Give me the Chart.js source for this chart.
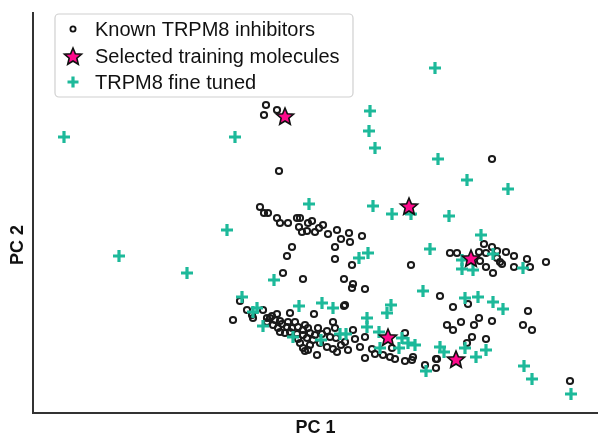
<!DOCTYPE html>
<html>
<head>
<meta charset="utf-8">
<script src="https://cdn.jsdelivr.net/npm/chart.js@4/dist/chart.umd.min.js"></script>
<style>
  html, body { margin: 0; padding: 0; background: #fff; }
  #wrap { position: relative; width: 598px; height: 439px; }
</style>
</head>
<body>
<div id="wrap"><canvas id="pcaChart" width="598" height="439"></canvas></div>
<script>
// values, in picture units (PC 2 grows downwards, axis reversed)
const knownInhibitors = [
  [266,105],[264,115],[277,110],[279,171],[492,159],
  [260,207],[264,213],[268,213],[277,218],[280,223],[288,223],[297,218],[300,218],[308,223],[312,221],
  [299,227],[302,232],[307,231],[315,232],[319,228],[323,225],[328,234],[337,230],[341,239],[349,233],
  [350,242],[362,236],[292,247],[287,256],[335,247],[335,259],[352,265],[283,273],[303,279],[344,279],
  [353,284],[352,288],[365,289],
  [411,265],[450,253],[457,253],[484,244],[492,247],[497,251],[479,252],[486,253],[506,252],[514,256],
  [527,259],[546,262],[480,261],[497,258],[500,262],[502,264],[486,267],[493,273],[514,267],[530,267],
  [440,296],[453,307],[468,304],[528,311],[447,325],[453,330],[461,322],[474,325],[479,318],[492,321],
  [523,325],[532,330],[472,337],[486,339],[467,343],[405,333],[436,359],[436,368],[425,365],[413,357],
  [405,361],[395,359],[570,381],
  [240,301],[233,320],[247,310],[252,315],[253,318],[263,310],[267,318],[270,318],[275,320],[280,321],
  [290,313],[314,314],[288,322],[267,322],[273,325],[278,328],[282,324],[287,327],[292,328],[298,327],
  [303,330],[308,328],[318,328],[327,331],[333,322],[335,328],[280,332],[285,333],[290,332],[297,334],
  [303,335],[310,333],[315,335],[298,339],[307,338],[313,340],[330,337],[336,338],[310,345],[303,348],
  [308,350],[327,347],[333,349],[337,352],[305,351],[317,355],[344,306],[277,314],
  [345,305],[353,330],[355,339],[345,342],[365,337],[360,347],[372,349],[375,354],[365,358],[383,355],
  [390,357],[392,348],[412,360],[437,359],
  [295,322],[305,325],[322,334],[320,343],[300,343],[341,345],[348,350],[272,316]
];

const selectedTraining = [
  [285,116],[409,206],[471,258],[388,337],[456,359]
];

const fineTuned = [
  [64,137],[235,137],[435,68],[370,111],[369,131],[375,148],[438,159],[467,180],[508,189],
  [309,204],[373,206],[392,214],[411,214],[449,216],[227,230],[481,235],[430,249],[119,256],[187,273],
  [359,258],[368,253],[274,280],[493,254],[462,260],[462,269],[473,270],[523,268],
  [242,297],[257,308],[253,312],[263,326],[299,306],[322,303],[333,308],[293,337],[321,340],[340,334],[346,334],
  [423,291],[391,305],[387,313],[367,318],[367,327],[379,332],[380,348],[402,338],[408,343],[415,345],[399,348],
  [440,347],[444,352],[426,371],[465,298],[478,297],[493,302],[503,309],[465,348],[476,357],[486,350],
  [524,366],[532,379],[571,394]
];

const seriesNames = ["Known TRPM8 inhibitors", "Selected training molecules", "TRPM8 fine tuned"];
const axisNames = ["PC 1", "PC 2"];

const TEAL = "#1db99a";
const PINK = "#ff0a8c";
const FONT = "'Liberation Sans', Arial, sans-serif";

// 5 point star, drawn once and used as the point style
function makeStar(r) {
  const c = document.createElement("canvas");
  const s = Math.ceil(r * 2 + 4);
  c.width = s; c.height = s;
  const g = c.getContext("2d");
  g.beginPath();
  for (let i = 0; i < 10; i++) {
    const rad = i % 2 === 0 ? r : r * 0.45;
    const a = -Math.PI / 2 + i * Math.PI / 5;
    g.lineTo(s / 2 + rad * Math.cos(a), s / 2 + 1 + rad * Math.sin(a));
  }
  g.closePath();
  g.fillStyle = PINK;
  g.fill();
  g.lineWidth = 1.6;
  g.strokeStyle = "#111";
  g.stroke();
  return c;
}
const starImg = makeStar(9);

const toPts = arr => arr.map(p => ({ x: p[0], y: p[1] }));

// legend in the top left corner of the plot, plus the PC 2 title
const boxLegend = {
  id: "boxLegend",
  afterDraw(chart) {
    const ctx = chart.ctx;
    const x0 = 55, y0 = 14, w = 298, h = 83;
    ctx.save();
    ctx.beginPath();
    ctx.roundRect(x0, y0, w, h, 4);
    ctx.fillStyle = "rgba(255,255,255,0.9)";
    ctx.fill();
    ctx.strokeStyle = "#d0d0d0";
    ctx.lineWidth = 1.2;
    ctx.stroke();

    const rows = [29, 56, 82];
    ctx.font = "20px " + FONT;
    ctx.fillStyle = "#111";
    ctx.textBaseline = "middle";
    seriesNames.forEach((name, i) => ctx.fillText(name, 95, rows[i] + 1));

    const draw = Chart.helpers.drawPoint;
    ctx.strokeStyle = "#111";
    ctx.fillStyle = "rgba(255,255,255,0)";
    ctx.lineWidth = 1.8;
    draw(ctx, { pointStyle: "circle", radius: 2.6, borderWidth: 1.8, rotation: 0 }, 73, rows[0]);
    ctx.drawImage(starImg, 73 - starImg.width / 2, rows[1] - starImg.height / 2);
    ctx.strokeStyle = TEAL;
    ctx.lineWidth = 3.2;
    draw(ctx, { pointStyle: "cross", radius: 5.5, borderWidth: 3.2, rotation: 0 }, 73, rows[2]);

    // y axis title sits a bit below the middle of the axis
    ctx.translate(18, 245);
    ctx.rotate(-Math.PI / 2);
    ctx.font = "bold 18px " + FONT;
    ctx.textAlign = "center";
    ctx.fillStyle = "#111";
    ctx.fillText(axisNames[1], 0, 0);
    ctx.restore();
  }
};

new Chart(document.getElementById("pcaChart").getContext("2d"), {
  type: "scatter",
  data: {
    datasets: [
      {
        label: seriesNames[1],
        data: toPts(selectedTraining),
        pointStyle: starImg,
        pointRadius: 9,
      },
      {
        label: seriesNames[2],
        data: toPts(fineTuned),
        pointStyle: "cross",
        pointRadius: 6,
        borderWidth: 3.2,
        borderColor: TEAL,
        backgroundColor: TEAL,
      },
      {
        label: seriesNames[0],
        data: toPts(knownInhibitors),
        pointStyle: "circle",
        pointRadius: 3.1,
        borderWidth: 2,
        borderColor: "#1a1a1a",
        backgroundColor: "rgba(255,255,255,0)",
      },
    ],
  },
  options: {
    responsive: false,
    animation: false,
    events: [],
    layout: { autoPadding: false, padding: { top: 13, right: 0, left: 0, bottom: 0 } },
    plugins: {
      legend: { display: false },
      tooltip: { enabled: false },
    },
    scales: {
      x: {
        type: "linear",
        min: 33,
        max: 598,
        grid: { display: false },
        border: { display: true, color: "#333", width: 2 },
        ticks: { display: false },
        afterFit(scale) { scale.height = 26; },
        title: {
          display: true,
          text: axisNames[0],
          color: "#111",
          font: { family: FONT, size: 18, weight: "bold" },
          padding: { top: 0, bottom: 0 },
        },
      },
      y: {
        type: "linear",
        reverse: true,
        min: 13,
        max: 413,
        grid: { display: false },
        border: { display: true, color: "#333", width: 2 },
        ticks: { display: false },
        afterFit(scale) { scale.width = 33; },
      },
    },
  },
  plugins: [boxLegend],
});
</script>
</body>
</html>
